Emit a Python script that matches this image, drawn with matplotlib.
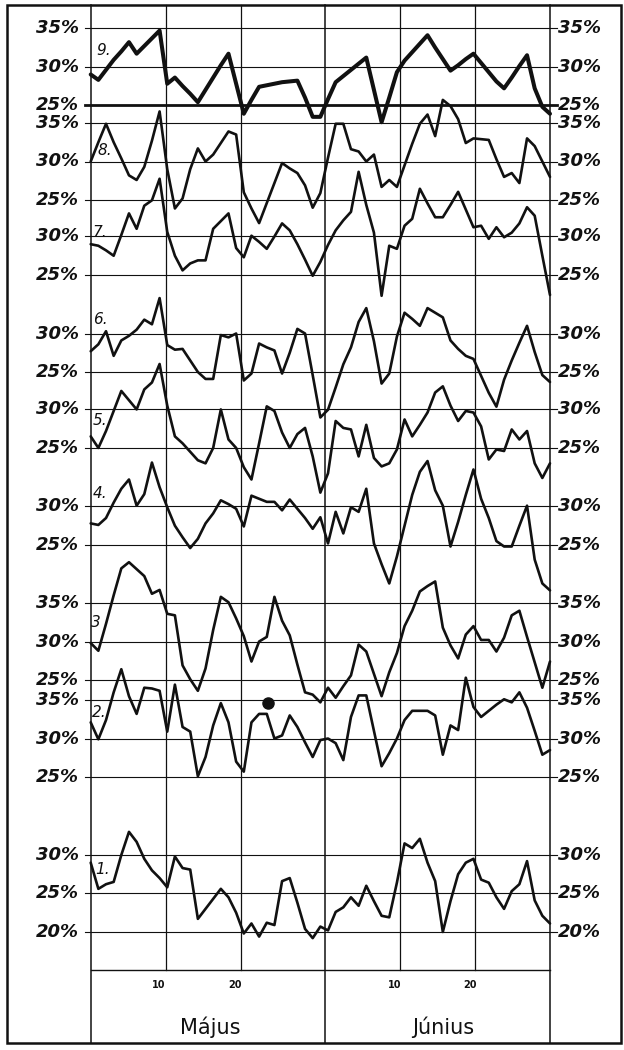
import numpy as np
import matplotlib
matplotlib.use("Agg")
import matplotlib.pyplot as plt
from matplotlib.patches import Rectangle

# ---------------- data (day index 0 = 1 May ... 60 = 30 June) ----------------
days = list(range(61))

s1 = [29.0, 25.6, 26.2, 26.5, 30.0, 33.0, 31.7, 29.5, 28.0, 27.0,
      25.8, 29.8, 28.3, 28.1, 21.7, 23.0, 24.3, 25.6, 24.5, 22.5,
      19.8, 21.1, 19.4, 21.2, 20.9, 26.6, 27.0, 23.8, 20.4, 19.2,
      20.7, 20.2, 22.6, 23.2, 24.5, 23.4, 26.0, 24.0, 22.1, 21.9,
      26.4, 31.5, 30.9, 32.1, 29.0, 26.6, 20.0, 24.0, 27.5, 29.0,
      29.5, 26.8, 26.4, 24.5, 23.0, 25.3, 26.2, 29.2, 24.1, 22.1, 21.1]
s2 = [32.1, 29.9, 32.4, 36.0, 39.0, 35.5, 33.2, 36.6, 36.5, 36.2,
      30.9, 37.0, 31.5, 30.9, 25.1, 27.6, 31.7, 34.6, 32.1, 27.0,
      25.7, 32.1, 33.2, 33.2, 30.0, 30.4, 33.0, 31.5, 29.5, 27.6,
      29.8, 30.0, 29.4, 27.2, 32.8, 35.6, 35.6, 31.0, 26.4, 28.1,
      30.0, 32.4, 33.6, 33.6, 33.6, 33.0, 27.9, 31.7, 31.1, 37.9,
      34.1, 32.8, 33.6, 34.4, 35.1, 34.7, 36.0, 34.0, 31.0, 27.9, 28.5]
s3 = [29.8, 28.8, 32.3, 36.0, 39.5, 40.3, 39.4, 38.5, 36.2, 36.7,
      33.6, 33.4, 26.9, 25.1, 23.6, 26.5, 31.5, 35.8, 35.1, 33.0,
      30.7, 27.4, 30.0, 30.6, 35.8, 32.7, 30.8, 27.0, 23.4, 23.1,
      22.1, 24.0, 22.7, 24.2, 25.6, 29.6, 28.7, 25.8, 22.9, 26.0,
      28.5, 32.0, 34.0, 36.5, 37.2, 37.8, 31.8, 29.5, 27.8, 30.9,
      32.0, 30.2, 30.2, 28.7, 30.5, 33.4, 34.0, 30.6, 27.3, 24.0, 27.4]
s4 = [27.8, 27.6, 28.5, 30.5, 32.3, 33.5, 30.1, 31.6, 35.7, 32.5,
      29.9, 27.5, 26.0, 24.6, 25.8, 27.8, 29.1, 30.8, 30.3, 29.7,
      27.4, 31.4, 31.0, 30.6, 30.6, 29.5, 30.9, 29.7, 28.5, 27.1,
      28.6, 25.2, 29.3, 26.5, 29.9, 29.3, 32.3, 25.2, 22.5, 20.0,
      23.5, 27.5, 31.5, 34.5, 35.9, 32.1, 30.1, 24.8, 28.0, 31.5,
      34.8, 31.0, 28.5, 25.5, 24.8, 24.8, 27.5, 30.1, 23.1, 20.0, 19.1]
s5 = [26.5, 25.0, 27.2, 29.8, 32.4, 31.2, 30.0, 32.6, 33.5, 35.9,
      30.5, 26.5, 25.6, 24.5, 23.4, 23.0, 25.0, 30.0, 26.1, 25.0,
      22.5, 20.9, 25.6, 30.4, 29.8, 27.0, 25.0, 26.8, 27.6, 23.9,
      19.2, 21.7, 28.5, 27.6, 27.4, 23.9, 28.0, 23.7, 22.6, 23.0,
      24.8, 28.7, 26.5, 28.0, 29.6, 32.2, 33.0, 30.5, 28.5, 29.8,
      29.6, 27.8, 23.5, 24.8, 24.6, 27.4, 26.1, 27.2, 23.0, 21.1, 23.0]
s6 = [27.7, 28.6, 30.3, 27.1, 29.1, 29.7, 30.5, 31.8, 31.2, 34.6,
      28.5, 27.9, 28.0, 26.5, 25.0, 24.1, 24.1, 29.8, 29.5, 30.0,
      23.9, 24.8, 28.7, 28.2, 27.8, 24.8, 27.5, 30.6, 30.0, 24.6,
      19.1, 20.1, 23.0, 26.0, 28.2, 31.5, 33.3, 29.0, 23.5, 24.8,
      29.6, 32.7, 31.9, 31.0, 33.3, 32.7, 32.1, 29.1, 28.0, 27.1,
      26.7, 24.5, 22.3, 20.5, 24.0, 26.5, 28.8, 31.0, 27.6, 24.6, 23.7]
s7 = [29.0, 28.8, 28.2, 27.5, 30.2, 33.0, 31.0, 34.0, 34.7, 37.5,
      30.6, 27.5, 25.6, 26.5, 26.9, 26.9, 31.0, 32.0, 33.0, 28.5,
      27.3, 30.1, 29.3, 28.4, 30.0, 31.7, 30.8, 29.0, 27.0, 24.9,
      26.7, 28.9, 30.8, 32.1, 33.2, 38.4, 34.1, 30.5, 22.3, 28.8,
      28.4, 31.4, 32.3, 36.2, 34.3, 32.5, 32.5, 34.1, 35.8, 33.5,
      31.2, 31.4, 29.7, 31.2, 29.9, 30.5, 31.7, 33.8, 32.7, 27.5, 22.4]
s8 = [30.0, 32.5, 34.9, 32.5, 30.4, 28.2, 27.6, 29.3, 32.7, 36.5,
      29.0, 23.9, 25.2, 29.0, 31.7, 30.0, 30.9, 32.4, 33.9, 33.5,
      26.0, 23.9, 22.0, 24.6, 27.2, 29.8, 29.1, 28.5, 26.9, 24.0,
      25.9, 30.5, 34.9, 34.9, 31.6, 31.3, 30.0, 30.9, 26.7, 27.6,
      26.7, 29.5, 32.3, 34.9, 36.1, 33.3, 38.0, 37.2, 35.5, 32.4,
      33.0, 32.9, 32.8, 30.3, 28.0, 28.5, 27.2, 33.0, 32.0, 30.0, 28.0]
s9 = [29.0, 28.3, 29.6, 30.9, 32.0, 33.2, 31.7, 32.7, 33.7, 34.7,
      27.8, 28.6, 27.5, 26.5, 25.4, 27.0, 28.6, 30.2, 31.7, 27.8,
      23.9, 25.7, 27.4, 27.6, 27.8, 28.0, 28.1, 28.2, 26.0, 23.5,
      23.5, 25.8, 28.0, 28.8, 29.6, 30.4, 31.2, 27.0, 22.8, 26.0,
      29.3, 30.8, 31.9, 33.0, 34.1, 32.5, 31.0, 29.5, 30.2, 31.0,
      31.7, 30.5, 29.3, 28.1, 27.2, 28.6, 30.1, 31.5, 27.2, 24.8, 23.9]

series = [s1, s2, s3, s4, s5, s6, s7, s8, s9]
series_names = ["1.", "2.", "3", "4.", "5.", "6.", "7.", "8.", "9."]
levels = [[30, 25, 20], [35, 30, 25], [35, 30, 25], [30, 25], [30, 25],
          [30, 25], [30, 25], [35, 30, 25], [35, 30, 25]]
day_ticks = ["10", "20", "10", "20"]
months = ["Május", "Június"]
marked_day, marked_value = 23.2, 34.6   # the dot on curve 2

# ---------------- layout ----------------
W, H = 624, 1050
X0, X1 = 90.7, 550.0           # plot area, pixels
YTOP, YBOT = 5.0, 970.0
PPP = 7.7                      # pixels per percent
offsets = [-15.06, 0.06, 12.66, 30.2, 42.8, 52.66, 65.26, 75.0, 87.3]
name_pos = [(0.6, 13.1), (0.2, 33.5), (0.0, 45.1), (0.3, 61.9), (0.2, 71.3),
            (0.3, 84.5), (0.3, 95.8), (0.95, 106.4), (0.8, 119.4)]
vlines_inner = [9.84, 19.6, 40.4, 50.2]
vlines_full = [0.0, 30.6, 60.0]
tick_x = [8.9, 18.85, 39.75, 49.5]
month_x = [15.6, 46.0]
ink = "#111111"

fig = plt.figure(figsize=(W / 100, H / 100), dpi=100)
fig.patch.set_facecolor("white")
ax = fig.add_axes([X0 / W, 1 - YBOT / H, (X1 - X0) / W, (YBOT - YTOP) / H])
ytop_val = (YBOT - YTOP) / PPP
ax.set_xlim(0, 60)
ax.set_ylim(0, ytop_val)
ax.axis("off")

ybottom_ext = (YBOT - 1043) / PPP
y_px = lambda p: (YBOT - p) / PPP

# vertical rules
for v in vlines_inner:
    ax.plot([v, v], [0, ytop_val], color=ink, lw=0.9, clip_on=False)
for v in vlines_full:
    ax.plot([v, v], [ybottom_ext, ytop_val], color=ink, lw=1.1, clip_on=False)
# bottom axis line
ax.plot([0, 60], [0, 0], color=ink, lw=1.0, clip_on=False)

# horizontal grid lines & labels
for k, (lv, off) in enumerate(zip(levels, offsets)):
    for L in lv:
        yy = L + off
        thick = (k == 8 and L == 25)
        ax.plot([-0.75, 60.9], [yy, yy], color=ink,
                lw=2.0 if thick else 0.8, clip_on=False, zorder=1)
        ax.text(-1.55, yy, f"{L}%", ha="right", va="center", fontsize=13,
                style="italic", fontweight="bold", color=ink)
        ax.text(61.0, yy, f"{L}%", ha="left", va="center", fontsize=13,
                style="italic", fontweight="bold", color=ink)

# curves
for k, (s, off) in enumerate(zip(series, offsets)):
    ax.plot(days, np.array(s) + off, color=ink, lw=2.9 if k == 8 else 1.9,
            solid_joinstyle="round", solid_capstyle="round", zorder=3,
            clip_on=False)
    nx, ny = name_pos[k]
    ax.text(nx, ny, series_names[k], ha="left", va="center", fontsize=11,
            style="italic", color=ink)

ax.plot([marked_day], [marked_value + offsets[1]], "o", color=ink, ms=8, zorder=4)

# day ticks and months
for t, lab in zip(tick_x, day_ticks):
    ax.text(t, y_px(985), lab, ha="center", va="center", fontsize=7,
            fontweight="bold", color=ink)
for t, lab in zip(month_x, months):
    ax.text(t, y_px(1027), lab, ha="center", va="center", fontsize=15,
            color=ink)

# outer frame
fig.patches.append(Rectangle((7 / W, 1 - 1043 / H), (621 - 7) / W, (1043 - 5) / H,
                             transform=fig.transFigure, fill=False, lw=1.8,
                             ec=ink))

fig.savefig("out.png", dpi=100, facecolor="white")
